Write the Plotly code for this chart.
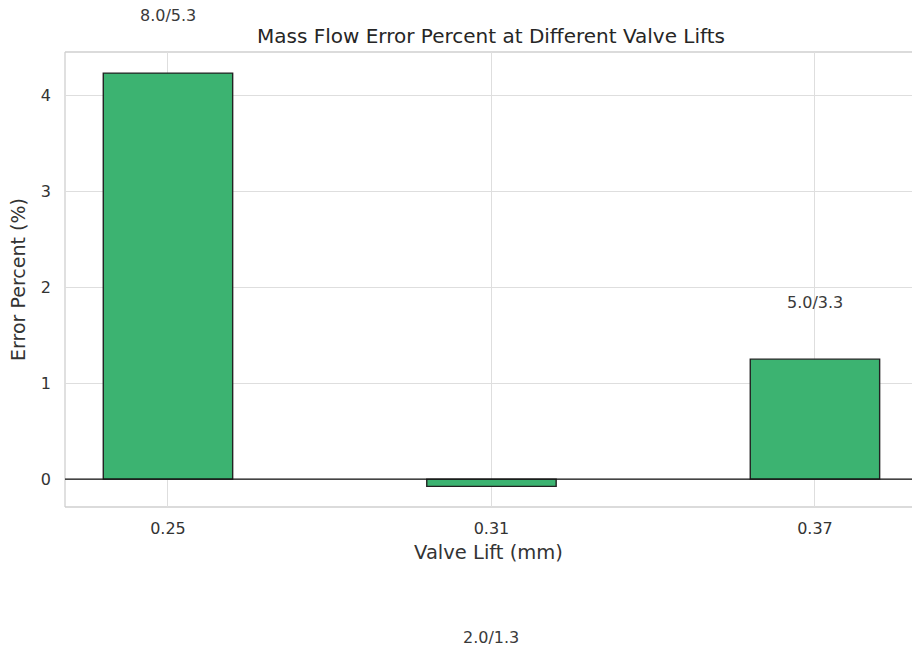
import plotly.graph_objects as go

# Valve lift positions and mass flow error per lift
valve_lift = [0.25, 0.31, 0.37]
error_pct = [4.23, -0.075, 1.25]
tick_labels = ["0.25", "0.31", "0.37"]

# Flow-rate labels and the heights (in % units) where they are written
flow_labels = ["8.0/5.3", "2.0/1.3", "5.0/3.3"]
label_y = [4.83, -1.65, 1.84]

Y_RANGE = [-0.29, 4.45]
FONT = "DejaVu Sans"
GRID = "#dedede"
SPINE = "#cfcfcf"

fig = go.Figure()
fig.add_trace(go.Bar(
    x=valve_lift,
    y=error_pct,
    width=0.024,
    marker=dict(color="#3cb371", line=dict(color="#222222", width=1.4)),
    hoverinfo="x+y",
))

# Flow-rate labels; placed in y-domain units so they may fall outside the axes
span = Y_RANGE[1] - Y_RANGE[0]
for x, y, t in zip(valve_lift, label_y, flow_labels):
    fig.add_annotation(x=x, xref="x", y=(y - Y_RANGE[0]) / span, yref="y domain",
                       xanchor="center", yanchor="middle",
                       text=t, showarrow=False,
                       font=dict(family=FONT, size=16, color="#3a3a3a"))

# Spines on left, top and bottom; horizontal reference line at zero
for x0, y0, x1, y1 in [(0, 0, 0, 1), (0, 1, 1, 1), (0, 0, 1, 0)]:
    fig.add_shape(type="line", xref="paper", yref="paper",
                  x0=x0, y0=y0, x1=x1, y1=y1,
                  line=dict(color=SPINE, width=1.3), layer="below")
fig.add_shape(type="line", xref="paper", yref="y", x0=0, x1=1, y0=0, y1=0,
              line=dict(color="#111111", width=1.3), layer="above")

fig.update_layout(
    width=912, height=652,
    margin=dict(l=65, r=0, t=52, b=145),
    paper_bgcolor="white", plot_bgcolor="white",
    showlegend=False,
    font=dict(family=FONT, size=16, color="#333333"),
    title=dict(text="Mass Flow Error Percent at Different Valve Lifts",
               x=491 / 912, xanchor="center", y=1 - 36 / 652, yanchor="middle",
               font=dict(family=FONT, size=20, color="#262626")),
    xaxis=dict(range=[0.2309, 0.388], tickvals=valve_lift, ticktext=tick_labels,
               showgrid=True, gridcolor=GRID, gridwidth=1, zeroline=False,
               showline=False, ticks="", ticklabelstandoff=10,
               tickfont=dict(size=16, color="#333333"),
               title=dict(text="Valve Lift (mm)", standoff=8,
                          font=dict(size=19.5, color="#333333"))),
    yaxis=dict(range=Y_RANGE, tickvals=[0, 1, 2, 3, 4],
               showgrid=True, gridcolor=GRID, gridwidth=1, zeroline=False,
               showline=False, ticks="", ticklabelstandoff=13,
               tickfont=dict(size=16, color="#333333"),
               title=dict(text="Error Percent (%)", standoff=10,
                          font=dict(size=19, color="#333333"))),
)

fig.write_html("out.html")
